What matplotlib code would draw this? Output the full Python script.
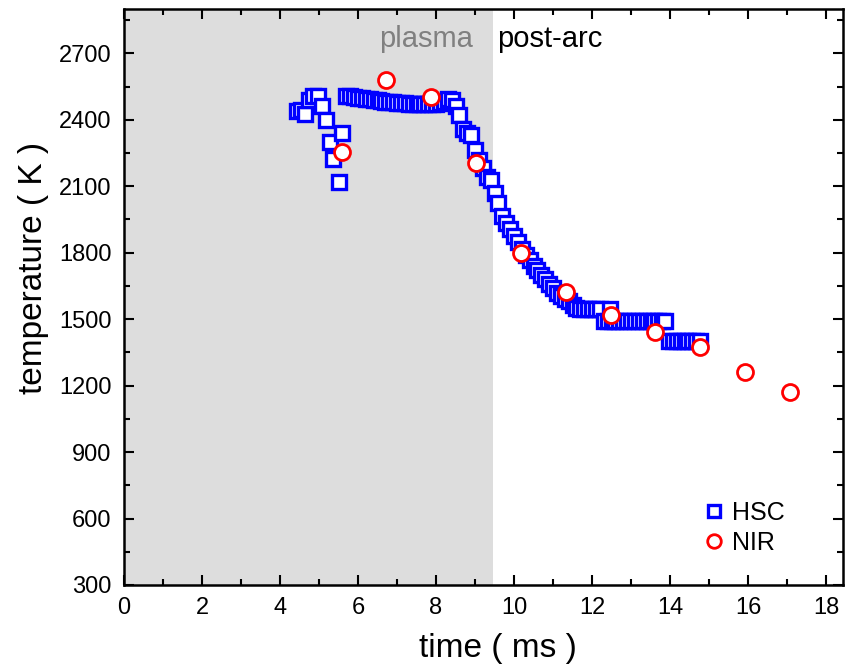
import matplotlib
matplotlib.use("Agg")
import matplotlib.pyplot as plt

plt.rcParams['font.family'] = ['Liberation Sans', 'DejaVu Sans']

# HSC (high speed camera) temperature, ms / K
hsc_time = [4.43, 4.55, 4.65, 4.75, 4.85, 4.97, 5.08, 5.18, 5.27, 5.37, 5.50, 5.58,
            5.70, 5.80, 5.90, 6.00, 6.10, 6.20, 6.30, 6.40, 6.50, 6.60, 6.70, 6.80,
            6.90, 7.00, 7.10, 7.20, 7.30, 7.40, 7.50, 7.60, 7.70, 7.80, 7.90, 8.00,
            8.10, 8.20, 8.30, 8.40, 8.50, 8.60, 8.70, 8.80, 8.90, 9.00, 9.10, 9.20,
            9.30, 9.40, 9.50, 9.60, 9.70, 9.80, 9.90, 10.00, 10.10, 10.20, 10.30,
            10.40, 10.50, 10.60, 10.70, 10.80, 10.90, 11.00, 11.10, 11.20, 11.30,
            11.40, 11.50, 11.60, 11.70, 11.80, 11.90, 12.00, 12.10, 12.20, 12.30,
            12.40, 12.46, 12.50, 12.60, 12.70, 12.80, 12.90, 13.00, 13.10, 13.20,
            13.30, 13.40, 13.50, 13.60, 13.70, 13.80, 13.87, 13.97, 14.07, 14.17,
            14.27, 14.37, 14.47, 14.57, 14.67, 14.77]
hsc_temp = [2440, 2445, 2425, 2490, 2505, 2505, 2460, 2400, 2300, 2225, 2120, 2340,
            2505, 2505, 2503, 2500, 2498, 2495, 2492, 2490, 2487, 2484, 2482, 2480,
            2478, 2477, 2476, 2474, 2473, 2472, 2470, 2470, 2470, 2470, 2471, 2472,
            2474, 2480, 2495, 2490, 2460, 2420, 2360, 2340, 2330, 2265, 2220, 2180,
            2140, 2130, 2070, 2025, 1965, 1935, 1905, 1875, 1850, 1815, 1790,
            1765, 1740, 1720, 1700, 1680, 1660, 1640, 1620, 1605, 1590,
            1580, 1565, 1550, 1545, 1545, 1545, 1545, 1545, 1545, 1490,
            1490, 1545, 1490, 1490, 1490, 1490, 1490, 1490, 1490, 1490,
            1490, 1490, 1490, 1490, 1490, 1490, 1490, 1400, 1400, 1400,
            1400, 1400, 1400, 1400, 1400, 1400]

# NIR pyrometer temperature
nir_time = [5.59, 6.72, 7.87, 9.03, 10.18, 11.33, 12.49, 13.62, 14.77, 15.92, 17.08]
nir_temp = [2255, 2578, 2502, 2205, 1800, 1624, 1520, 1444, 1376, 1263, 1169]

plasma_end = 9.47

fig = plt.figure(figsize=(8.54, 6.69), dpi=100)
ax = fig.add_axes([0.1452, 0.1256, 0.8418, 0.861])

ax.axvspan(0, plasma_end, color='#dddddd', zorder=0, lw=0)

ax.plot(hsc_time, hsc_temp, ls='none', marker='s', ms=10, mew=2.4,
        mec='#0000ff', mfc='white', label='HSC', zorder=3)
ax.plot(nir_time, nir_temp, ls='none', marker='o', ms=11.5, mew=2.0,
        mec='#ff0000', mfc='white', label='NIR', zorder=4)

ax.text(plasma_end - 0.52, 2765, 'plasma', color='#808080', fontsize=21,
        ha='right', va='center')
ax.text(plasma_end + 0.1, 2765, 'post-arc', color='black', fontsize=21,
        ha='left', va='center')

ax.set_xlim(0, 18.43)
ax.set_ylim(300, 2900)
ax.set_xticks(range(0, 19, 2))
ax.set_xticks(range(1, 19, 2), minor=True)
ax.set_yticks(range(300, 2701, 300))
ax.set_yticks(range(450, 2900, 300), minor=True)

ax.tick_params(which='both', direction='in', top=True, right=True, width=1.5,
               labelsize=17)
ax.tick_params(which='major', length=7)
ax.tick_params(which='minor', length=4)
ax.tick_params(axis='y', pad=9)
ax.tick_params(axis='x', pad=9)
for s in ax.spines.values():
    s.set_linewidth(1.8)

ax.set_xlabel('time ( ms )', fontsize=24)
ax.set_ylabel('temperature ( K )', fontsize=24)
ax.xaxis.set_label_coords(0.52, -0.083)
ax.yaxis.set_label_coords(-0.104, 0.55)

ax.legend(loc='lower right', frameon=False, fontsize=18, markerscale=0.85,
          handlelength=1.0, handletextpad=0.2, borderaxespad=0,
          labelspacing=0.25, bbox_to_anchor=(0.933, 0.035))

fig.savefig('out.png', dpi=100)
